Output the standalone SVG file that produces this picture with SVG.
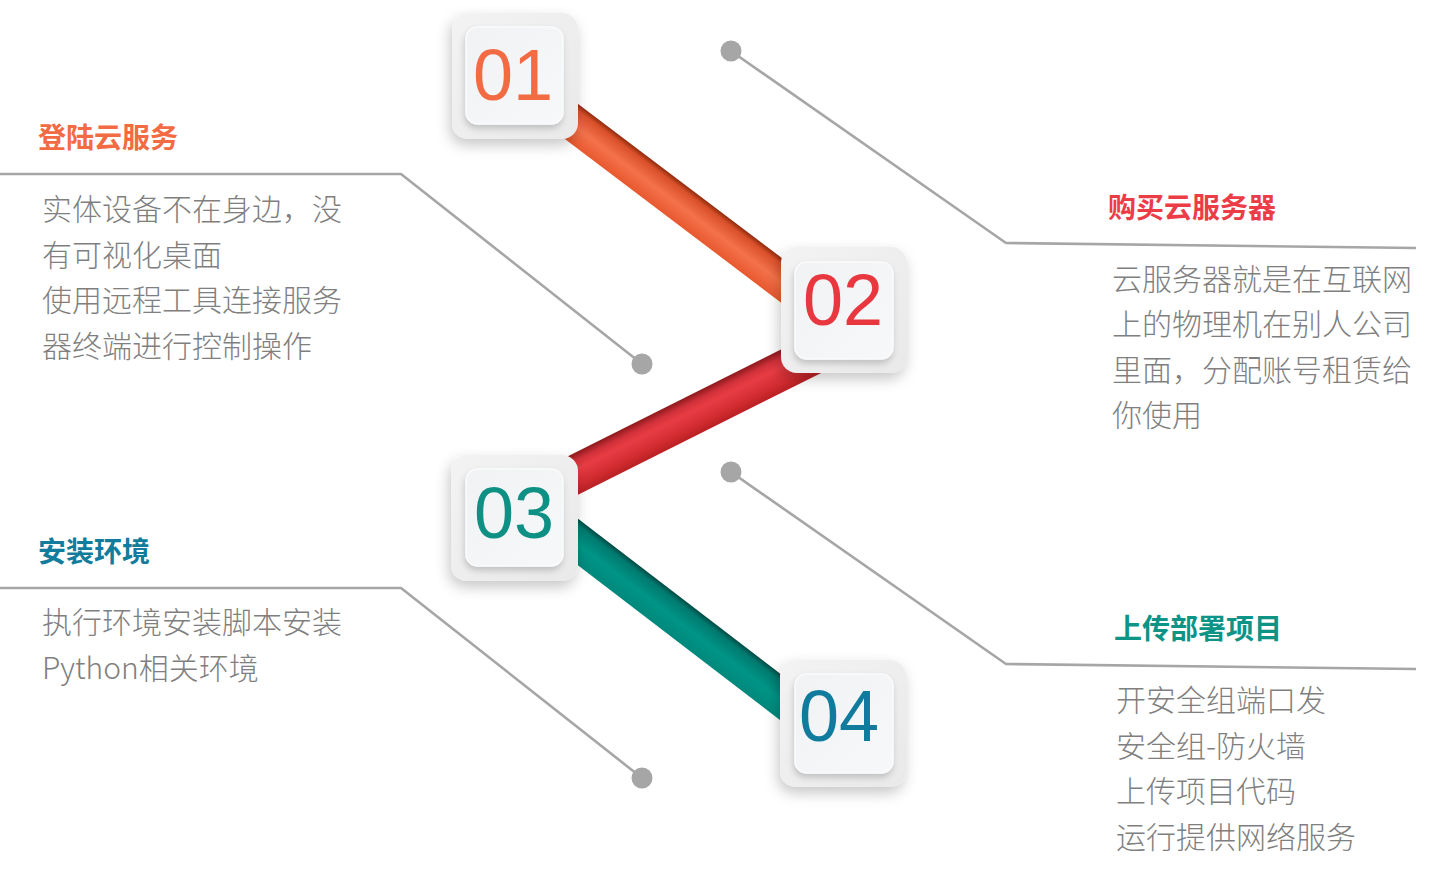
<svg xmlns="http://www.w3.org/2000/svg" width="1432" height="873" viewBox="0 0 1432 873">
  <defs>
    <style>
      .lead { fill: none; stroke: #A6A6A6; stroke-width: 2.6; stroke-linejoin: round; }
      .dot { fill: #A6A6A6; }
      .outer { fill: url(#gOuter); filter: url(#fOuter); }
      .inner { fill: url(#gInner); filter: url(#fInner); stroke: #FAFBFC; stroke-width: 1.5; }
      .num { font-family: "Liberation Sans", Arial, sans-serif; font-size: 72px; text-anchor: middle; }
      .title { font-family: "Noto Sans CJK SC", sans-serif; font-size: 28px; font-weight: bold; }
      .body { font-family: "Noto Sans CJK SC", sans-serif; font-size: 30px; font-weight: 300; fill: #7F7F7F; }
    </style>
    <linearGradient id="gOuter" x1="0" y1="0" x2="1" y2="1">
      <stop offset="0" stop-color="#F3F3F4"/>
      <stop offset="1" stop-color="#E9E9EA"/>
    </linearGradient>
    <linearGradient id="gInner" x1="0" y1="0" x2="1" y2="1">
      <stop offset="0" stop-color="#F1F2F4"/>
      <stop offset="1" stop-color="#F7F8FA"/>
    </linearGradient>
    <linearGradient id="gBand1" x1="0" y1="0" x2="0" y2="1">
      <stop offset="0" stop-color="#8E2A0C"/>
      <stop offset="0.15" stop-color="#D9502A"/>
      <stop offset="0.55" stop-color="#F4724B"/>
      <stop offset="1" stop-color="#E8582F"/>
    </linearGradient>
    <linearGradient id="gBand2" x1="0" y1="0" x2="0" y2="1">
      <stop offset="0" stop-color="#8C1A1C"/>
      <stop offset="0.2" stop-color="#D2313A"/>
      <stop offset="0.4" stop-color="#E83C44"/>
      <stop offset="0.8" stop-color="#CF2A2E"/>
      <stop offset="1" stop-color="#B82024"/>
    </linearGradient>
    <linearGradient id="gBand3" x1="0" y1="0" x2="0" y2="1">
      <stop offset="0" stop-color="#004A44"/>
      <stop offset="0.15" stop-color="#007A6F"/>
      <stop offset="0.55" stop-color="#009586"/>
      <stop offset="1" stop-color="#00887B"/>
    </linearGradient>
    <filter id="fOuter" x="-30%" y="-30%" width="160%" height="160%">
      <feDropShadow dx="-2" dy="6" stdDeviation="7" flood-color="#000" flood-opacity="0.22"/>
    </filter>
    <filter id="fInner" x="-20%" y="-20%" width="140%" height="140%">
      <feDropShadow dx="-1" dy="4" stdDeviation="3" flood-color="#000" flood-opacity="0.18"/>
    </filter>
  </defs>

  <rect width="1432" height="873" fill="#FFFFFF"/>

  <g id="connectors">
    <polyline class="lead" points="0,174 401,174 642,364"/>
    <circle class="dot" cx="642" cy="364" r="10.5"/>
    <polyline class="lead" points="0,588 401,588 642,778"/>
    <circle class="dot" cx="642" cy="778" r="10.5"/>
    <polyline class="lead" points="731,51 1006,243 1416,248"/>
    <circle class="dot" cx="731" cy="51" r="10.5"/>
    <polyline class="lead" points="731,472 1006,664 1416,669"/>
    <circle class="dot" cx="731" cy="472" r="10.5"/>

    <g transform="translate(514,78) rotate(37.1)">
      <rect x="0" y="-18" width="413" height="36" fill="url(#gBand1)"/>
    </g>
    <g transform="translate(514,505) rotate(-26.6)">
      <rect x="0" y="-19.5" width="368" height="39" fill="url(#gBand2)"/>
    </g>
    <g transform="translate(514,493) rotate(37.45)">
      <rect x="0" y="-18.5" width="414" height="37" fill="url(#gBand3)"/>
    </g>
  </g>

  <g id="node-01">
    <rect class="outer" x="452" y="13" width="126" height="126" rx="16"/>
    <rect class="inner" x="466" y="27" width="97" height="97" rx="12"/>
    <text class="num" x="513" y="100" fill="#F26B43">01</text>
  </g>
  <g id="node-02">
    <rect class="outer" x="781" y="247" width="126" height="126" rx="16"/>
    <rect class="inner" x="795" y="262" width="98" height="97" rx="12"/>
    <text class="num" x="843" y="325" fill="#E9373F">02</text>
  </g>
  <g id="node-03">
    <rect class="outer" x="451" y="455" width="127" height="126" rx="16"/>
    <rect class="inner" x="466" y="469" width="97" height="97" rx="12"/>
    <text class="num" x="514" y="538" fill="#0E9184">03</text>
  </g>
  <g id="node-04">
    <rect class="outer" x="780" y="660" width="126" height="127" rx="16"/>
    <rect class="inner" x="795" y="674" width="98" height="99" rx="12"/>
    <text class="num" x="839" y="741" fill="#117B9E">04</text>
  </g>

  <g id="text-01">
    <text class="title" x="38" y="148" fill="#F26B43">登陆云服务</text>
    <text class="body" x="42" y="220">实体设备不在身边，没</text>
    <text class="body" x="42" y="266">有可视化桌面</text>
    <text class="body" x="42" y="311">使用远程工具连接服务</text>
    <text class="body" x="42" y="357">器终端进行控制操作</text>
  </g>
  <g id="text-02">
    <text class="title" x="1108" y="218" fill="#EC3D47">购买云服务器</text>
    <text class="body" x="1112" y="290">云服务器就是在互联网</text>
    <text class="body" x="1112" y="335">上的物理机在别人公司</text>
    <text class="body" x="1112" y="381">里面，分配账号租赁给</text>
    <text class="body" x="1112" y="426">你使用</text>
  </g>
  <g id="text-03">
    <text class="title" x="38" y="562" fill="#127C9C">安装环境</text>
    <text class="body" x="42" y="633">执行环境安装脚本安装</text>
    <text class="body" x="42" y="679">Python相关环境</text>
  </g>
  <g id="text-04">
    <text class="title" x="1114" y="639" fill="#0E9486">上传部署项目</text>
    <text class="body" x="1116" y="711">开安全组端口发</text>
    <text class="body" x="1116" y="757">安全组-防火墙</text>
    <text class="body" x="1116" y="802">上传项目代码</text>
    <text class="body" x="1116" y="848">运行提供网络服务</text>
  </g>
</svg>
